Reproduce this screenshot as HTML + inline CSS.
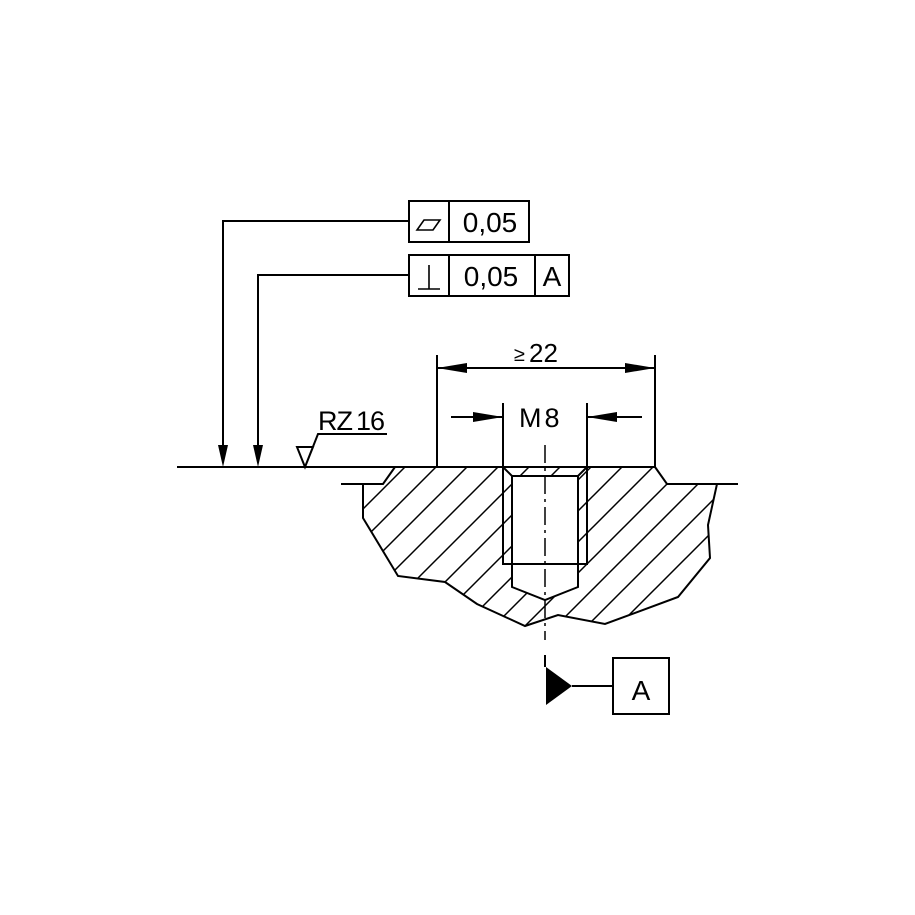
<!DOCTYPE html>
<html><head><meta charset="utf-8"><style>
html,body{margin:0;padding:0;background:#fff;}
svg{display:block}
text{font-family:"Liberation Sans",sans-serif;fill:#000}
</style></head><body>
<svg width="915" height="915" viewBox="0 0 915 915" xmlns="http://www.w3.org/2000/svg">
<defs>
<pattern id="h" patternUnits="userSpaceOnUse" width="31" height="31" patternTransform="translate(4,0)">
<path d="M-31,31 L31,-31 M0,31 L31,0 M0,62 L62,0 M-31,62 L62,-31" stroke="#000" stroke-width="1.5"/>
</pattern>
<clipPath id="c">
<path d="M395,467 L383,484 L363,484 L363,518 L398,576 L445,582 L477,604 L525,626 L558,615 L605,624 L678,597 L710,558 L708,525 L717,484 L667,484 L655,467 Z M512,476 L578,476 L578,587 L545,600 L512,587 Z" clip-rule="evenodd"/>
</clipPath>
</defs>
<g clip-path="url(#c)"><rect x="340" y="440" width="400" height="200" fill="url(#h)"/></g>
<g fill="none" stroke="#000" stroke-width="2">
<path d="M395,467 L383,484 L363,484 L363,518 L398,576 L445,582 L477,604 L525,626 L558,615 L605,624 L678,597 L710,558 L708,525 L717,484 L667,484 L655,467"/>
<path d="M177,467 H655 M341,484 H383 M667,484 H738"/>
<path d="M503,467 V564 H587 V467 M503,467 L512,476 H578 L587,467 M512,476 V587 L545,600 L578,587 V476"/>
<path d="M545,445 V640" stroke-width="1.5" stroke-dasharray="18,5,3,5"/>
<path d="M545,655 V667 M572,686 H613"/>
<rect x="613" y="658" width="56" height="56"/>
<rect x="409" y="201" width="120" height="41"/>
<path d="M449,201 V242"/>
<rect x="409" y="255" width="160" height="41"/>
<path d="M449,255 V296 M535,255 V296"/>
<path d="M409,221 H223 V450 M409,275 H258 V450"/>
<path d="M437,355 V467 M655,355 V467 M437,368 H655"/>
<path d="M503,403 V467 M587,403 V467 M451,417 H503 M642,417 H587"/>
<path d="M297,447 H313 L305,467 Z M305,467 L318,434 H387"/>
<path d="M417,230 L424,220 H440 L433,230 Z" stroke-width="1.6"/>
<path d="M418,289 H440 M429,289 V265" stroke-width="1.6"/>
</g>
<g fill="#000">
<path d="M223,467 L218,445 L228,445 Z"/>
<path d="M258,467 L253,445 L263,445 Z"/>
<path d="M437,368 L467,363 L467,373 Z"/>
<path d="M655,368 L625,363 L625,373 Z"/>
<path d="M503,417 L473,412 L473,422 Z"/>
<path d="M587,417 L617,412 L617,422 Z"/>
<path d="M546,667 L546,705 L572,686 Z"/>
</g>
<text x="490" y="232" font-size="28" text-anchor="middle">0,05</text>
<text x="491" y="286" font-size="28" text-anchor="middle">0,05</text>
<text x="552" y="286" font-size="28" text-anchor="middle">A</text>
<text x="641" y="700" font-size="28" text-anchor="middle">A</text>
<text x="519" y="427" font-size="27" letter-spacing="3">M8</text>
<text x="514" y="361" font-size="20">≥</text>
<text x="529" y="362" font-size="26" letter-spacing="0">22</text>
<text x="318" y="430" font-size="27" letter-spacing="-1">RZ<tspan dx="4">16</tspan></text>
</svg>
</body></html>
